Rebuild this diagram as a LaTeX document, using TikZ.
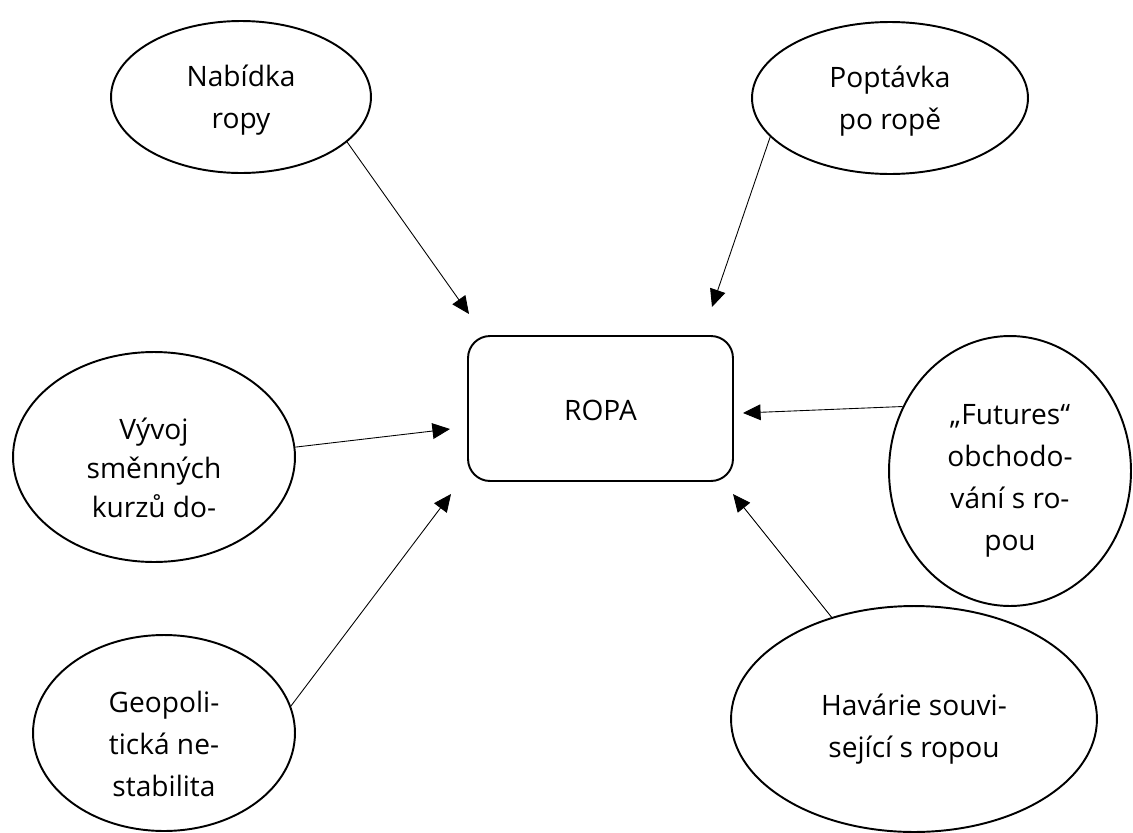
\documentclass[tikz,border=0pt]{standalone}
\usepackage{fontspec}
\setmainfont{Open Sans}
\usetikzlibrary{arrows.meta,shapes.geometric}

\begin{document}
\begin{tikzpicture}[x=0.02cm,y=-0.02cm,
                bubble/.style={ellipse,draw,line width=1.1pt,inner sep=0pt},
                txt/.style={align=center,font=\fontsize{16}{24}\selectfont},
                main node/.style={rectangle,draw,rounded corners=0.44cm,line width=1.1pt,minimum width=5.3cm,minimum height=2.9cm},
                arr/.style={-{Triangle[length=10pt,width=9pt]},line width=0.5pt}]

  \useasboundingbox (0,0) rectangle (1133,832);

  \node[main node,label={[txt,yshift=-0.04cm]center:ROPA}] (ropa) at (600.5,408.5) {};

  \node[bubble,minimum width=5.2cm,minimum height=3.04cm,
        label={[txt,yshift=-0.06cm]center:Nabídka\\ropy}] (nabidka) at (241,97) {};
  \node[bubble,minimum width=5.52cm,minimum height=3.04cm,
        label={[txt,yshift=-0.06cm]center:Poptávka\\po ropě}] (poptavka) at (890,98) {};
  \node[bubble,minimum width=5.64cm,minimum height=4.2cm,
        label={[txt,font=\fontsize{16}{22}\selectfont,yshift=-0.22cm]center:Vývoj\\směnných\\kurzů do-}] (vyvoj) at (154,457) {};
  \node[bubble,minimum width=4.84cm,minimum height=5.4cm,
        label={[txt,yshift=-0.2cm]center:„Futures“\\obchodo-\\vání s ro-\\pou}] (futures) at (1010,471) {};
  \node[bubble,minimum width=5.24cm,minimum height=3.92cm,
        label={[txt,yshift=-0.22cm]center:Geopoli-\\tická ne-\\stabilita}] (geo) at (164,733) {};
  \node[bubble,minimum width=7.32cm,minimum height=4.52cm,
        label={[txt,yshift=-0.2cm]center:Havárie souvi-\\sející s ropou}] (havarie) at (914,719) {};

  % arrow tips next to the box
  \coordinate (in1) at (469,314);
  \coordinate (in2) at (712,307);
  \coordinate (in3) at (450,429);
  \coordinate (in4) at (743,413);
  \coordinate (in5) at (451,494);
  \coordinate (in6) at (733,494);

  \draw[arr] (nabidka.-23) -- (in1);
  \draw[arr] (poptavka.198.4) -- (in2);
  \draw[arr] (vyvoj.4) -- (in3);
  \draw[arr] (futures.149.5) -- (in4);
  \draw[arr] (geo.12) -- (in5);
  \draw[arr] (havarie.129.9) -- (in6);
\end{tikzpicture}
\end{document}
